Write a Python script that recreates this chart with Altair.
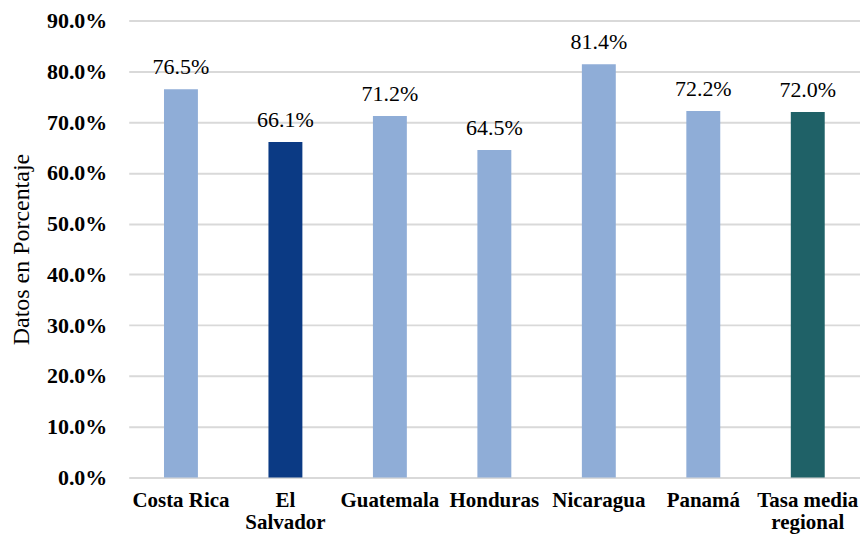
import altair as alt
import pandas as pd

categories = ["Costa Rica", "El Salvador", "Guatemala", "Honduras", "Nicaragua", "Panamá", "Tasa media regional"]
values = [76.5, 66.1, 71.2, 64.5, 81.4, 72.2, 72.0]
colors = ["#8FADD7", "#0B3A84", "#8FADD7", "#8FADD7", "#8FADD7", "#8FADD7", "#1F6167"]

df = pd.DataFrame({
    "pais": categories,
    "valor": [v / 100 for v in values],
    "color": colors,
})

FONT = "Liberation Serif"

label_expr = ("datum.label == 'El Salvador' ? ['El', 'Salvador'] : "
              "datum.label == 'Tasa media regional' ? ['Tasa media', 'regional'] : datum.label")

x = alt.X("pais:N", sort=categories, title=None,
          scale=alt.Scale(paddingInner=0, paddingOuter=0),
          axis=alt.Axis(labelAngle=0, labelExpr=label_expr, labelFont=FONT, labelFontSize=21,
                        labelFontWeight="bold", labelColor="#000000", labelPadding=12,
                        labelLineHeight=22, labelBaseline="top",
                        ticks=False, domain=False, grid=False))
y = alt.Y("valor:Q", title="Datos en Porcentaje",
          scale=alt.Scale(domain=[0, 0.9], nice=False),
          axis=alt.Axis(format=".1%", values=[i / 10 for i in range(10)], labelFont=FONT,
                        labelFontSize=22, labelFontWeight="bold", labelColor="#000000",
                        labelPadding=22, ticks=False, domain=False, grid=True,
                        gridColor="#d9d9d9", gridWidth=2, titleFont=FONT, titleFontSize=24,
                        titleFontWeight="normal", titleColor="#000000", titlePadding=13))

bars = alt.Chart(df).mark_bar(size=34).encode(
    x=x, y=y, color=alt.Color("color:N", scale=None)
)
text = alt.Chart(df).mark_text(font=FONT, fontSize=22, dy=-15, baseline="alphabetic",
                               color="#000000").encode(
    x=alt.X("pais:N", sort=categories),
    y="valor:Q",
    text=alt.Text("valor:Q", format=".1%"),
)

chart = (bars + text).properties(
    width=733, height=458,
    autosize=alt.AutoSizeParams(type="none"),
    padding={"left": 121, "top": 12, "right": 0, "bottom": 60},
).configure_view(stroke=None)

chart.save("out.html", embed_options={"renderer": "svg", "actions": False})
